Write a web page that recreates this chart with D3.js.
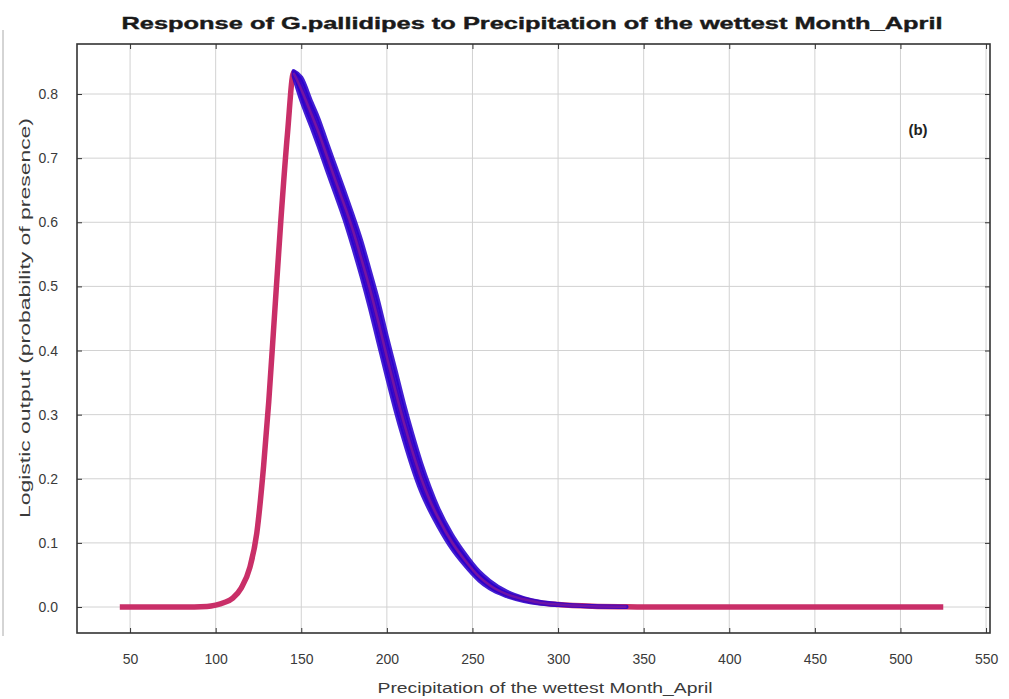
<!DOCTYPE html>
<html>
<head>
<meta charset="utf-8">
<script src="https://cdn.jsdelivr.net/npm/d3@7"></script>
<style>
  body { margin: 0; background: #fff; }
  svg { display: block; }
  .tick text { font-family: "Liberation Sans", Arial, sans-serif; font-size: 14px; fill: #3a3a3a; }
</style>
</head>
<body>
<div id="chart"></div>
<script>
// Mean response curve (precipitation, probability)
const precip = [44, 60, 80, 95, 100, 105, 110, 115, 120, 124, 128, 131, 134, 138, 142, 145.5,
  150, 156, 160, 165, 170, 175, 180, 185, 190, 195, 200, 205, 210, 215, 220, 225, 230, 238,
  245, 254, 260, 270, 280, 290, 300, 320, 340, 360, 400, 450, 500, 525];
const meanProb = [0, 0, 0, 0.001, 0.003, 0.007, 0.014, 0.03, 0.062, 0.115, 0.22, 0.32, 0.44, 0.6, 0.74, 0.833,
  0.807, 0.768, 0.741, 0.703, 0.665, 0.628, 0.589, 0.544, 0.497, 0.445, 0.39, 0.337, 0.287, 0.242, 0.201, 0.167, 0.139, 0.101,
  0.075, 0.047, 0.034, 0.02, 0.012, 0.0065, 0.0038, 0.0012, 0.0004, 0, 0, 0, 0, 0];

// Spread of replicate runs (blue band)
const bandPrecip = [145.5, 150, 156, 160, 165, 170, 175, 180, 185, 190, 195, 200, 205, 210, 215, 220,
  225, 230, 238, 245, 254, 260, 270, 280, 290, 300, 320, 340];
const bandUpper = [0.836, 0.826, 0.787, 0.762, 0.724, 0.687, 0.65, 0.612, 0.572, 0.525, 0.477, 0.422, 0.37, 0.317, 0.269, 0.225,
  0.187, 0.154, 0.113, 0.085, 0.055, 0.041, 0.024, 0.014, 0.008, 0.0048, 0.0015, 0.0005];
const bandLower = [0.828, 0.79, 0.748, 0.719, 0.681, 0.644, 0.606, 0.563, 0.517, 0.467, 0.413, 0.359, 0.307, 0.26, 0.217, 0.18,
  0.151, 0.126, 0.091, 0.067, 0.041, 0.029, 0.017, 0.0095, 0.0052, 0.003, 0.0009, 0.0002];

const xTicks = [50, 100, 150, 200, 250, 300, 350, 400, 450, 500, 550];
const yTicks = [0, 0.1, 0.2, 0.3, 0.4, 0.5, 0.6, 0.7, 0.8];

const W = 1009, H = 699;
const box = { left: 77, right: 990, top: 44, bottom: 633 };

const svg = d3.select("#chart").append("svg")
  .attr("width", W)
  .attr("height", H);

const x = d3.scaleLinear().domain([19, 552.3]).range([box.left, box.right]);
const y = d3.scaleLinear().domain([-0.0405, 0.878]).range([box.bottom, box.top]);

// thin crop edge on the far left
svg.append("line")
  .attr("x1", 3).attr("x2", 3).attr("y1", 30).attr("y2", 636)
  .attr("stroke", "#aaa").attr("stroke-width", 1);

// grid
const grid = svg.append("g").attr("stroke", "#d2d2d2").attr("stroke-width", 1);
grid.selectAll(".gx").data(xTicks).enter().append("line")
  .attr("x1", d => x(d)).attr("x2", d => x(d))
  .attr("y1", box.top).attr("y2", box.bottom);
grid.selectAll(".gy").data(yTicks).enter().append("line")
  .attr("x1", box.left).attr("x2", box.right)
  .attr("y1", d => y(d)).attr("y2", d => y(d));

// mean line
const meanData = precip.map((p, i) => ({ p, v: meanProb[i] }));
const line = d3.line().x(d => x(d.p)).y(d => y(d.v)).curve(d3.curveMonotoneX);
svg.append("path")
  .datum(meanData)
  .attr("fill", "none")
  .attr("stroke", "#c92f68")
  .attr("stroke-width", 5.5)
  .attr("stroke-linejoin", "round")
  .attr("d", line);

// replicate band
const bandData = bandPrecip.map((p, i) => ({ p, hi: bandUpper[i], lo: bandLower[i] }));
const area = d3.area()
  .x(d => x(d.p))
  .y0(d => y(d.lo))
  .y1(d => y(d.hi))
  .curve(d3.curveMonotoneX);
svg.append("path")
  .datum(bandData)
  .attr("fill", "#2a00cc")
  .attr("fill-opacity", 0.88)
  .attr("stroke", "#2a00cc")
  .attr("stroke-opacity", 0.88)
  .attr("stroke-width", 4)
  .attr("stroke-linejoin", "round")
  .attr("d", area);

// mean line seen through the band
svg.append("path")
  .datum(meanData.filter(d => d.p >= 145.5 && d.p <= 340))
  .attr("fill", "none")
  .attr("stroke", "#a0208a")
  .attr("stroke-opacity", 0.55)
  .attr("stroke-width", 2.5)
  .attr("d", line);

// axes with inward ticks
svg.append("g")
  .attr("transform", `translate(0,${box.bottom})`)
  .call(d3.axisBottom(x).tickValues(xTicks).tickSize(-5).tickPadding(21).tickFormat(d3.format("d")))
  .call(g => g.select(".domain").remove());
svg.append("g")
  .attr("transform", `translate(0,${box.top})`)
  .call(d3.axisTop(x).tickValues(xTicks).tickSize(-5).tickFormat(""))
  .call(g => g.select(".domain").remove());
svg.append("g")
  .attr("transform", `translate(${box.left},0)`)
  .call(d3.axisLeft(y).tickValues(yTicks).tickSize(-5).tickPadding(19).tickFormat(d3.format(".1f")))
  .call(g => g.select(".domain").remove());
svg.append("g")
  .attr("transform", `translate(${box.right},0)`)
  .call(d3.axisRight(y).tickValues(yTicks).tickSize(-5).tickFormat(""))
  .call(g => g.select(".domain").remove());
svg.selectAll(".tick line").attr("stroke", "#333");

// frame
svg.append("rect")
  .attr("x", box.left).attr("y", box.top)
  .attr("width", box.right - box.left).attr("height", box.bottom - box.top)
  .attr("fill", "none").attr("stroke", "#333").attr("stroke-width", 1.6);

// title and labels
svg.append("text")
  .attr("x", 532).attr("y", 29)
  .attr("text-anchor", "middle")
  .attr("textLength", 821).attr("lengthAdjust", "spacingAndGlyphs")
  .style("font-family", "'Liberation Sans', Arial, sans-serif")
  .style("font-weight", "bold").style("font-size", "17px").style("fill", "#1a1a1a")
  .style("stroke", "#1a1a1a").style("stroke-width", 0.4)
  .text("Response of G.pallidipes to Precipitation of the wettest Month_April");

svg.append("text")
  .attr("x", 545).attr("y", 693)
  .attr("text-anchor", "middle")
  .attr("textLength", 335).attr("lengthAdjust", "spacingAndGlyphs")
  .style("font-family", "'Liberation Sans', Arial, sans-serif")
  .style("font-size", "14px").style("fill", "#3a3a3a")
  .text("Precipitation of the wettest Month_April");

svg.append("text")
  .attr("transform", "translate(30,318) rotate(-90)")
  .attr("text-anchor", "middle")
  .attr("textLength", 400).attr("lengthAdjust", "spacingAndGlyphs")
  .style("font-family", "'Liberation Sans', Arial, sans-serif")
  .style("font-size", "14px").style("fill", "#3a3a3a")
  .text("Logistic output (probability of presence)");

svg.append("text")
  .attr("x", 918).attr("y", 135)
  .attr("text-anchor", "middle")
  .style("font-family", "'Liberation Sans', Arial, sans-serif")
  .style("font-weight", "bold").style("font-size", "15px").style("fill", "#222")
  .text("(b)");
</script>
</body>
</html>
